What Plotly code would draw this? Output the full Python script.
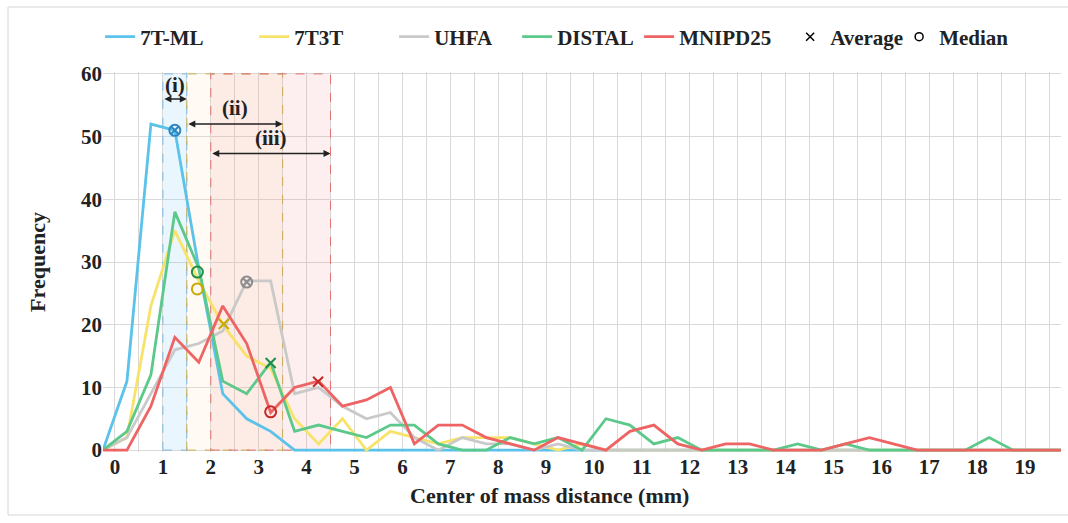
import plotly.graph_objects as go

# ---- data (bin centres in mm, 0.5 mm bins) ----
dist_mm = [-0.25, 0.25, 0.75, 1.25, 1.75, 2.25, 2.75, 3.25, 3.75, 4.25,
           4.75, 5.25, 5.75, 6.25, 6.75, 7.25, 7.75, 8.25, 8.75, 9.25,
           9.75, 10.25, 10.75, 11.25, 11.75, 12.25, 12.75, 13.25, 13.75, 14.25,
           14.75, 15.25, 15.75, 16.25, 16.75, 17.25, 17.75, 18.25, 18.75, 19.25,
           19.75]

freq_7tml = [0, 11, 52, 51, 29, 9, 5, 3, 0, 0,
             0, 0, 0, 0, 0, 0, 0, 0, 0, 0,
             0, 0, 0, 0, 0, 0, 0, 0, 0, 0,
             0, 0, 0, 0, 0, 0, 0, 0, 0, 0, 0]
freq_7t3t = [0, 2, 23, 35, 27, 20, 15, 13, 5, 1,
             5, 0, 3, 2, 1, 2, 2, 2, 1, 0,
             1, 0, 0, 0, 0, 0, 0, 0, 0, 0,
             0, 0, 0, 0, 0, 0, 0, 0, 0, 0, 0]
freq_uhfa = [0, 2, 9, 16, 17, 19, 27, 27, 9, 10,
             7, 5, 6, 2, 0, 2, 1, 1, 0, 1,
             0, 0, 0, 0, 0, 0, 0, 0, 0, 0,
             0, 0, 0, 0, 0, 0, 0, 0, 0, 0, 0]
freq_distal = [0, 3, 12, 38, 29, 11, 9, 14, 3, 4,
               3, 2, 4, 4, 1, 0, 0, 2, 1, 2,
               0, 5, 4, 1, 2, 0, 0, 0, 0, 1,
               0, 1, 0, 0, 0, 0, 0, 2, 0, 0, 0]
freq_mnipd25 = [0, 0, 7, 18, 14, 23, 17, 6, 10, 11,
                7, 8, 10, 1, 4, 4, 2, 1, 0, 2,
                1, 0, 3, 4, 1, 0, 1, 1, 0, 0,
                0, 1, 2, 1, 0, 0, 0, 0, 0, 0, 0]

series_names = ["7T-ML", "7T3T", "UHFA", "DISTAL", "MNIPD25"]
line_colors = ["#5BC2EA", "#F8E36A", "#C9C9C9", "#5CC98A", "#EE6464"]
mark_colors = ["#2E86C1", "#C9A800", "#8C8C8C", "#1E8C4A", "#C62828"]

median_x = [1.25, 1.72, 2.75, 1.72, 3.25]
median_y = [51, 25.7, 26.8, 28.4, 6.1]
average_x = [1.25, 2.27, 2.75, 3.25, 4.24]
average_y = [51, 20.1, 26.8, 13.9, 10.9]

x_ticks = list(range(0, 20))

# ranges (i)-(iii) in mm
ranges = [("(i)", 1.0, 1.5), ("(ii)", 1.5, 3.5), ("(iii)", 2.0, 4.5)]
arrow_y = [56, 52, 47.3]
label_y = [58.3, 54.5, 49.8]

FONT = "Liberation Serif"
TXT = "#222222"
legend_w = [109, 95, 78, 77, 106, 64, 70]

fig = go.Figure()
all_freq = [freq_7tml, freq_7t3t, freq_uhfa, freq_distal, freq_mnipd25]
for name, ys, col, lw in zip(series_names, all_freq, line_colors, legend_w):
    fig.add_trace(go.Scatter(x=dist_mm, y=ys, mode="lines", name=name, legendwidth=lw,
                             line=dict(color=col, width=2.8)))

for i in range(5):
    fig.add_trace(go.Scatter(x=[median_x[i]], y=[median_y[i]], mode="markers",
                             showlegend=False, cliponaxis=False,
                             marker=dict(symbol="circle-open", size=11,
                                         color=mark_colors[i], line=dict(width=2, color=mark_colors[i]))))
    fig.add_trace(go.Scatter(x=[average_x[i]], y=[average_y[i]], mode="markers",
                             showlegend=False, cliponaxis=False,
                             marker=dict(symbol="x-thin-open", size=8 if average_x[i] == median_x[i] else 10,
                                         color=mark_colors[i], line=dict(width=2, color=mark_colors[i]))))

# legend-only entries
fig.add_trace(go.Scatter(x=[None], y=[None], mode="markers", name="Average", legendwidth=legend_w[5],
                         marker=dict(symbol="x-thin-open", size=8, color="black",
                                     line=dict(width=1.5, color="black"))))
fig.add_trace(go.Scatter(x=[None], y=[None], mode="markers", name="Median", legendwidth=legend_w[6],
                         marker=dict(symbol="circle-open", size=8, color="black",
                                     line=dict(width=1.5, color="black"))))

shapes = []
fills = ["rgba(120,200,240,0.16)", "rgba(255,228,180,0.15)", "rgba(240,125,125,0.12)"]
edges = ["#7FB8E0", "#C8B050", "#E07070"]
for (lab, a, b), fc, ec in zip(ranges, fills, edges):
    shapes.append(dict(type="rect", xref="x", yref="y", x0=a, x1=b, y0=0, y1=60,
                       fillcolor=fc, line=dict(color=ec, width=1, dash="dash"),
                       layer="between"))

# outer chart border
shapes.append(dict(type="rect", xref="paper", yref="paper",
                   x0=(8 - 103) / 958, x1=(1075 - 103) / 958,
                   y0=(452 - 515) / 380, y1=(452 - 7) / 380,
                   line=dict(color="#D6D6D6", width=1), layer="below"))

annotations = []
for (lab, a, b), ay_, ly in zip(ranges, arrow_y, label_y):
    annotations.append(dict(x=b, y=ay_, ax=a, ay=ay_, xref="x", yref="y",
                            axref="x", ayref="y", text="", showarrow=True,
                            arrowhead=2, arrowside="end+start", arrowsize=1,
                            arrowwidth=1.4, arrowcolor="#222222"))
    annotations.append(dict(x=(a + b) / 2, y=ly, xref="x", yref="y", text=lab,
                            showarrow=False,
                            font=dict(family=FONT, size=21, color="#222222", weight="bold")))

# x-axis title (placed like the original, slightly left of the plot centre)
annotations.append(dict(x=(549 - 103) / 958, y=(452 - 495) / 380, xref="paper", yref="paper",
                        text="Center of mass distance (mm)", showarrow=False,
                        xanchor="center", yanchor="middle",
                        font=dict(family=FONT, size=22, color=TXT, weight="bold")))

fig.update_layout(
    width=1068, height=523,
    margin=dict(l=103, r=7, t=72, b=71),
    paper_bgcolor="white", plot_bgcolor="white",
    font=dict(family=FONT, size=21, color=TXT),
    shapes=shapes, annotations=annotations,
    legend=dict(orientation="h", x=-0.003, xanchor="left", y=1.092, yanchor="middle",
                font=dict(family=FONT, size=21, color=TXT, weight="bold"),
                traceorder="normal", bgcolor="rgba(0,0,0,0)"),
    xaxis=dict(range=[-0.25, 19.75], tickvals=x_ticks, ticktext=[str(v) for v in x_ticks],
               showgrid=True, gridcolor="#D9D9D9", gridwidth=1, zeroline=False,
               showline=False, ticks="",
               minor=dict(dtick=0.5, tick0=0, showgrid=True, gridcolor="#D9D9D9", gridwidth=1),
               tickfont=dict(family=FONT, size=21, color=TXT, weight="bold")),
    yaxis=dict(range=[-0.3, 60.3], tick0=0, dtick=10, showgrid=True, gridcolor="#D9D9D9",
               gridwidth=1, zeroline=False, showline=False, ticks="",
               tickfont=dict(family=FONT, size=21, color=TXT, weight="bold"),
               title=dict(text="Frequency", standoff=29,
                          font=dict(family=FONT, size=22, color=TXT, weight="bold"))),
)

fig.write_html("out.html")
